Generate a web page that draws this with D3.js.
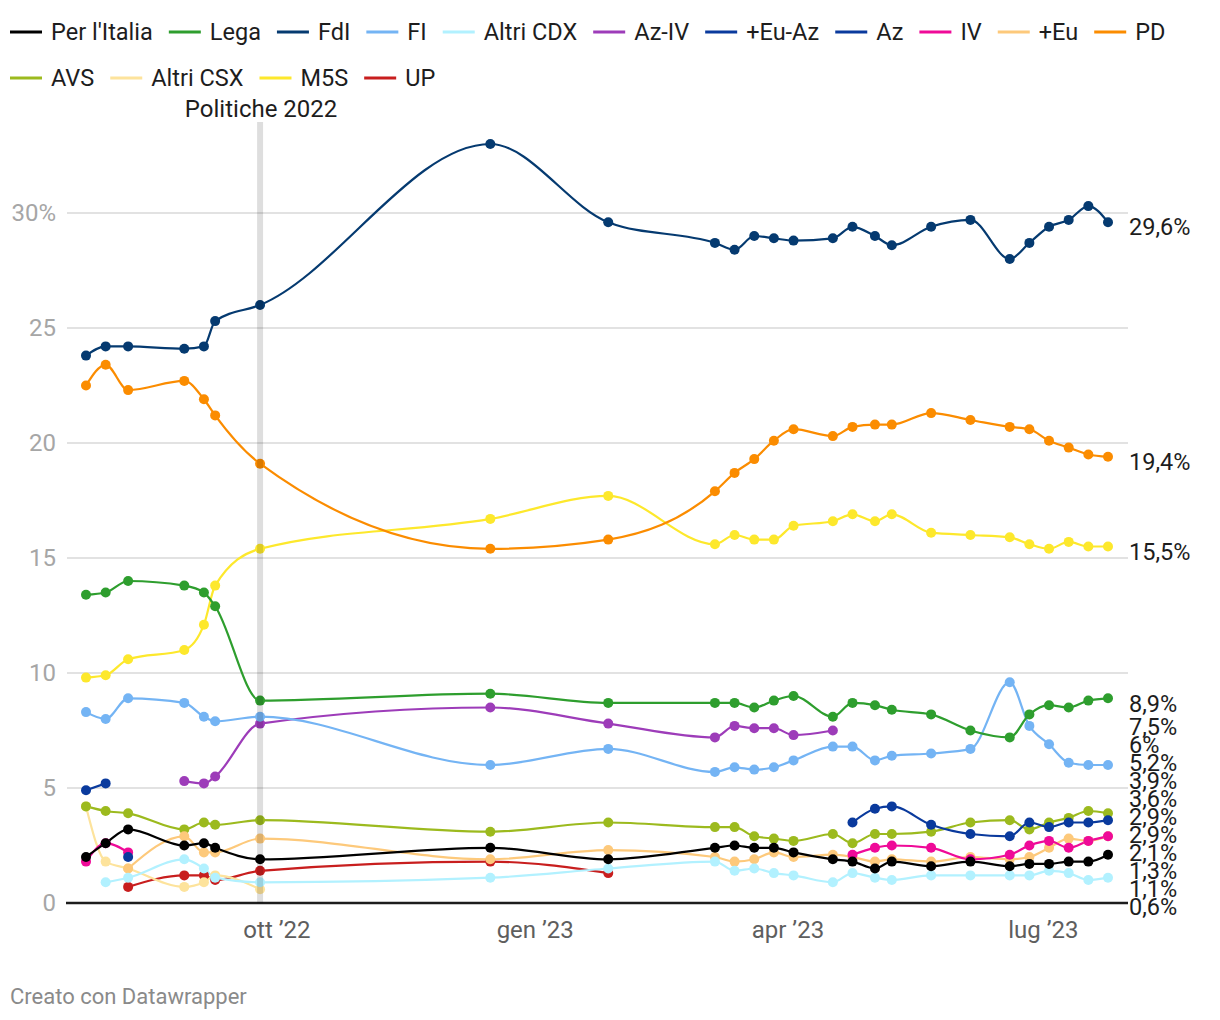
<!DOCTYPE html>
<html><head><meta charset="utf-8">
<script src="https://cdn.jsdelivr.net/npm/d3@7"></script>
<style>
body{margin:0;background:#fff;}
svg{display:block;font-family:Roboto, "Noto Sans", sans-serif;}
</style></head><body>
<svg id="c" width="1220" height="1020"></svg>
<script>
// ---------- DATA ----------
const dates = ["2022-07-25","2022-08-01","2022-08-09","2022-08-29","2022-09-05","2022-09-09","2022-09-25","2022-12-16","2023-01-27","2023-03-06","2023-03-13","2023-03-20","2023-03-27","2023-04-03","2023-04-17","2023-04-24","2023-05-02","2023-05-08","2023-05-22","2023-06-05","2023-06-19","2023-06-26","2023-07-03","2023-07-10","2023-07-17","2023-07-24"];
const _ = null;
const perItalia = [2.0,2.6,3.2,2.5,2.6,2.4,1.9,2.4,1.9,2.4,2.5,2.4,2.4,2.2,1.9,1.8,1.5,1.8,1.6,1.8,1.6,1.7,1.7,1.8,1.8,2.1];
const lega      = [13.4,13.5,14.0,13.8,13.5,12.9,8.8,9.1,8.7,8.7,8.7,8.5,8.8,9.0,8.1,8.7,8.6,8.4,8.2,7.5,7.2,8.2,8.6,8.5,8.8,8.9];
const fdi       = [23.8,24.2,24.2,24.1,24.2,25.3,26.0,33.0,29.6,28.7,28.4,29.0,28.9,28.8,28.9,29.4,29.0,28.6,29.4,29.7,28.0,28.7,29.4,29.7,30.3,29.6];
const fi        = [8.3,8.0,8.9,8.7,8.1,7.9,8.1,6.0,6.7,5.7,5.9,5.8,5.9,6.2,6.8,6.8,6.2,6.4,6.5,6.7,9.6,7.7,6.9,6.1,6.0,6.0];
const altriCdx  = [_,0.9,1.1,1.9,1.5,1.1,0.9,1.1,1.5,1.8,1.4,1.5,1.3,1.2,0.9,1.3,1.1,1.0,1.2,1.2,1.2,1.2,1.4,1.3,1.0,1.1];
const azIv      = [_,_,_,5.3,5.2,5.5,7.8,8.5,7.8,7.2,7.7,7.6,7.6,7.3,7.5,_,_,_,_,_,_,_,_,_,_,_];
const euAz      = [4.9,5.2,_,_,_,_,_,_,_,_,_,_,_,_,_,_,_,_,_,_,_,_,_,_,_,_];
const az        = [_,_,2.0,_,_,_,_,_,_,_,_,_,_,_,_,3.5,4.1,4.2,3.4,3.0,2.9,3.5,3.3,3.5,3.5,3.6];
const iv        = [1.8,2.6,2.2,_,_,_,_,_,_,_,_,_,_,_,_,2.1,2.4,2.5,2.4,1.9,2.1,2.5,2.7,2.4,2.7,2.9];
const piuEu     = [_,_,1.5,2.9,2.2,2.2,2.8,1.9,2.3,2.0,1.8,1.9,2.2,2.0,2.1,2.0,1.8,1.9,1.8,2.0,1.9,2.0,2.4,2.8,2.7,2.9];
const pd        = [22.5,23.4,22.3,22.7,21.9,21.2,19.1,15.4,15.8,17.9,18.7,19.3,20.1,20.6,20.3,20.7,20.8,20.8,21.3,21.0,20.7,20.6,20.1,19.8,19.5,19.4];
const avs       = [4.2,4.0,3.9,3.2,3.5,3.4,3.6,3.1,3.5,3.3,3.3,2.9,2.8,2.7,3.0,2.6,3.0,3.0,3.1,3.5,3.6,3.2,3.5,3.7,4.0,3.9];
const altriCsx  = [4.2,1.8,1.5,0.7,0.9,1.2,0.6,_,_,_,_,_,_,_,_,_,_,_,_,_,_,_,_,_,_,_];
const m5s       = [9.8,9.9,10.6,11.0,12.1,13.8,15.4,16.7,17.7,15.6,16.0,15.8,15.8,16.4,16.6,16.9,16.6,16.9,16.1,16.0,15.9,15.6,15.4,15.7,15.5,15.5];
const up        = [_,_,0.7,1.2,1.2,1.0,1.4,1.8,1.3,_,_,_,_,_,_,_,_,_,_,_,_,_,_,_,_,_];

const seriesNames  = ["Per l'Italia","Lega","FdI","FI","Altri CDX","Az-IV","+Eu-Az","Az","IV","+Eu","PD","AVS","Altri CSX","M5S","UP"];
const seriesValues = [perItalia,lega,fdi,fi,altriCdx,azIv,euAz,az,iv,piuEu,pd,avs,altriCsx,m5s,up];
const seriesColors = ["#000000","#2e9e2e","#053a70","#74b4f4","#b2f1ff","#9d3cb9","#0a3a9d","#0a3a9d","#ef0a98","#fdc97b","#fb8c00","#9cba1e","#fde39c","#fde82c","#c81e1e"];

const yTicks = [0,5,10,15,20,25,30];
const xTickDates  = ["2022-10-01","2023-01-01","2023-04-01","2023-07-01"];
const xTickLabels = ["ott ’22","gen ’23","apr ’23","lug ’23"];
const eventDate  = "2022-09-25";
const eventLabel = "Politiche 2022";
const footer = "Creato con Datawrapper";

// ---------- CHART ----------
const svg = d3.select("#c");
const parse = d3.utcParse("%Y-%m-%d");
const W = 1220;
const left = 86, right = 1108, gridL = 67, gridR = 1128;
const x = d3.scaleUtc().domain([parse(dates[0]), parse(dates[dates.length-1])]).range([left, right]);
const y = d3.scaleLinear().domain([0, 33]).range([903, 144]);

const series = seriesNames.map((n,i)=>({
  name:n, color:seriesColors[i],
  all: seriesValues[i].map((v,j)=>({d:parse(dates[j]), v}))
}));
series.forEach(s=>{ s.pts = s.all.filter(p=>p.v!==null); });

// legend
const lg = svg.append("g").attr("font-size", 23.5).attr("fill","#1d1d1d");
let lx = 10, ly = 32;
series.forEach(s=>{
  const g = lg.append("g");
  const t = g.append("text").attr("x", lx+41).attr("y", ly).attr("dy","0.35em").text(s.name);
  const w = t.node().getComputedTextLength();
  if (lx + 41 + w > W - 10) {
    lx = 10; ly += 46;
    t.attr("x", lx+41).attr("y", ly);
  }
  g.append("line").attr("x1", lx).attr("x2", lx+32).attr("y1", ly).attr("y2", ly)
    .attr("stroke", s.color).attr("stroke-width", 3);
  lx += 41 + w + 16;
});

// gridlines + y labels
const yg = svg.append("g");
yTicks.forEach(t=>{
  if (t>0) yg.append("line").attr("x1",gridL).attr("x2",gridR).attr("y1",y(t)).attr("y2",y(t))
      .attr("stroke","#e2e2e2").attr("stroke-width",2);
  yg.append("text").attr("x",56).attr("y",y(t)).attr("dy","0.35em").attr("text-anchor","end")
    .attr("font-size",24).attr("fill","#a6a6a6").text(t===30 ? t+"%" : t);
});

// x labels
xTickDates.forEach((d,i)=>{
  svg.append("text").attr("x", x(parse(d))).attr("y", 930).attr("dy","0.35em")
    .attr("text-anchor","middle").attr("font-size",24).attr("fill","#5e5e5e").text(xTickLabels[i]);
});

// lines (gaps where values are missing)
const line = d3.line().defined(p=>p.v!==null).x(p=>x(p.d)).y(p=>y(p.v)).curve(d3.curveMonotoneX);
const drawOrder = series.slice().reverse();
const lgG = svg.append("g");
drawOrder.forEach(s=>{
  lgG.append("path").attr("d", line(s.all)).attr("fill","none")
    .attr("stroke", s.color).attr("stroke-width", 2.2);
});
drawOrder.forEach(s=>{
  lgG.selectAll(null).data(s.pts).enter().append("circle")
    .attr("cx",p=>x(p.d)).attr("cy",p=>y(p.v)).attr("r",5).attr("fill", s.color);
});

// baseline
svg.append("line").attr("x1",gridL-1).attr("x2",gridR).attr("y1",y(0)).attr("y2",y(0))
  .attr("stroke","#1d1d1d").attr("stroke-width",2.5);

// event band on top
const ex = x(parse(eventDate));
svg.append("rect").attr("x", ex-3).attr("y", 122).attr("width", 6).attr("height", y(0)-122)
  .attr("fill","#000").attr("opacity",0.13);
svg.append("text").attr("x", ex+1).attr("y", 109).attr("dy","0.35em").attr("text-anchor","middle")
  .attr("font-size",24).attr("fill","#1d1d1d").text(eventLabel);

// end labels with collision relaxation
const fmt = v => (Number.isInteger(v) ? String(v) : d3.format(".1f")(v).replace(".", ",")) + "%";
const labels = series.map(s=>{
  const last = s.pts[s.pts.length-1];
  return {text: fmt(last.v), y0: y(last.v)+5, y: y(last.v)+5};
}).sort((a,b)=>a.y0-b.y0);
const gap = 18, maxY = 907;
for (let it=0; it<400; it++){
  for (let i=1;i<labels.length;i++){
    const d = labels[i].y - labels[i-1].y;
    if (d < gap){ const o=(gap-d)/2; labels[i].y += o; labels[i-1].y -= o; }
  }
  labels.forEach(l=>{ if (l.y>maxY) l.y = maxY; });
}
svg.append("g").selectAll("text").data(labels).enter().append("text")
  .attr("x", 1129).attr("y", d=>d.y).attr("dy","0.35em")
  .attr("font-size",23.5).attr("fill","#1d1d1d").text(d=>d.text);

// footer
svg.append("text").attr("x",10).attr("y",996).attr("dy","0.35em")
  .attr("font-size",22).attr("fill","#8a8a8a").text(footer);
</script>
</body></html>
